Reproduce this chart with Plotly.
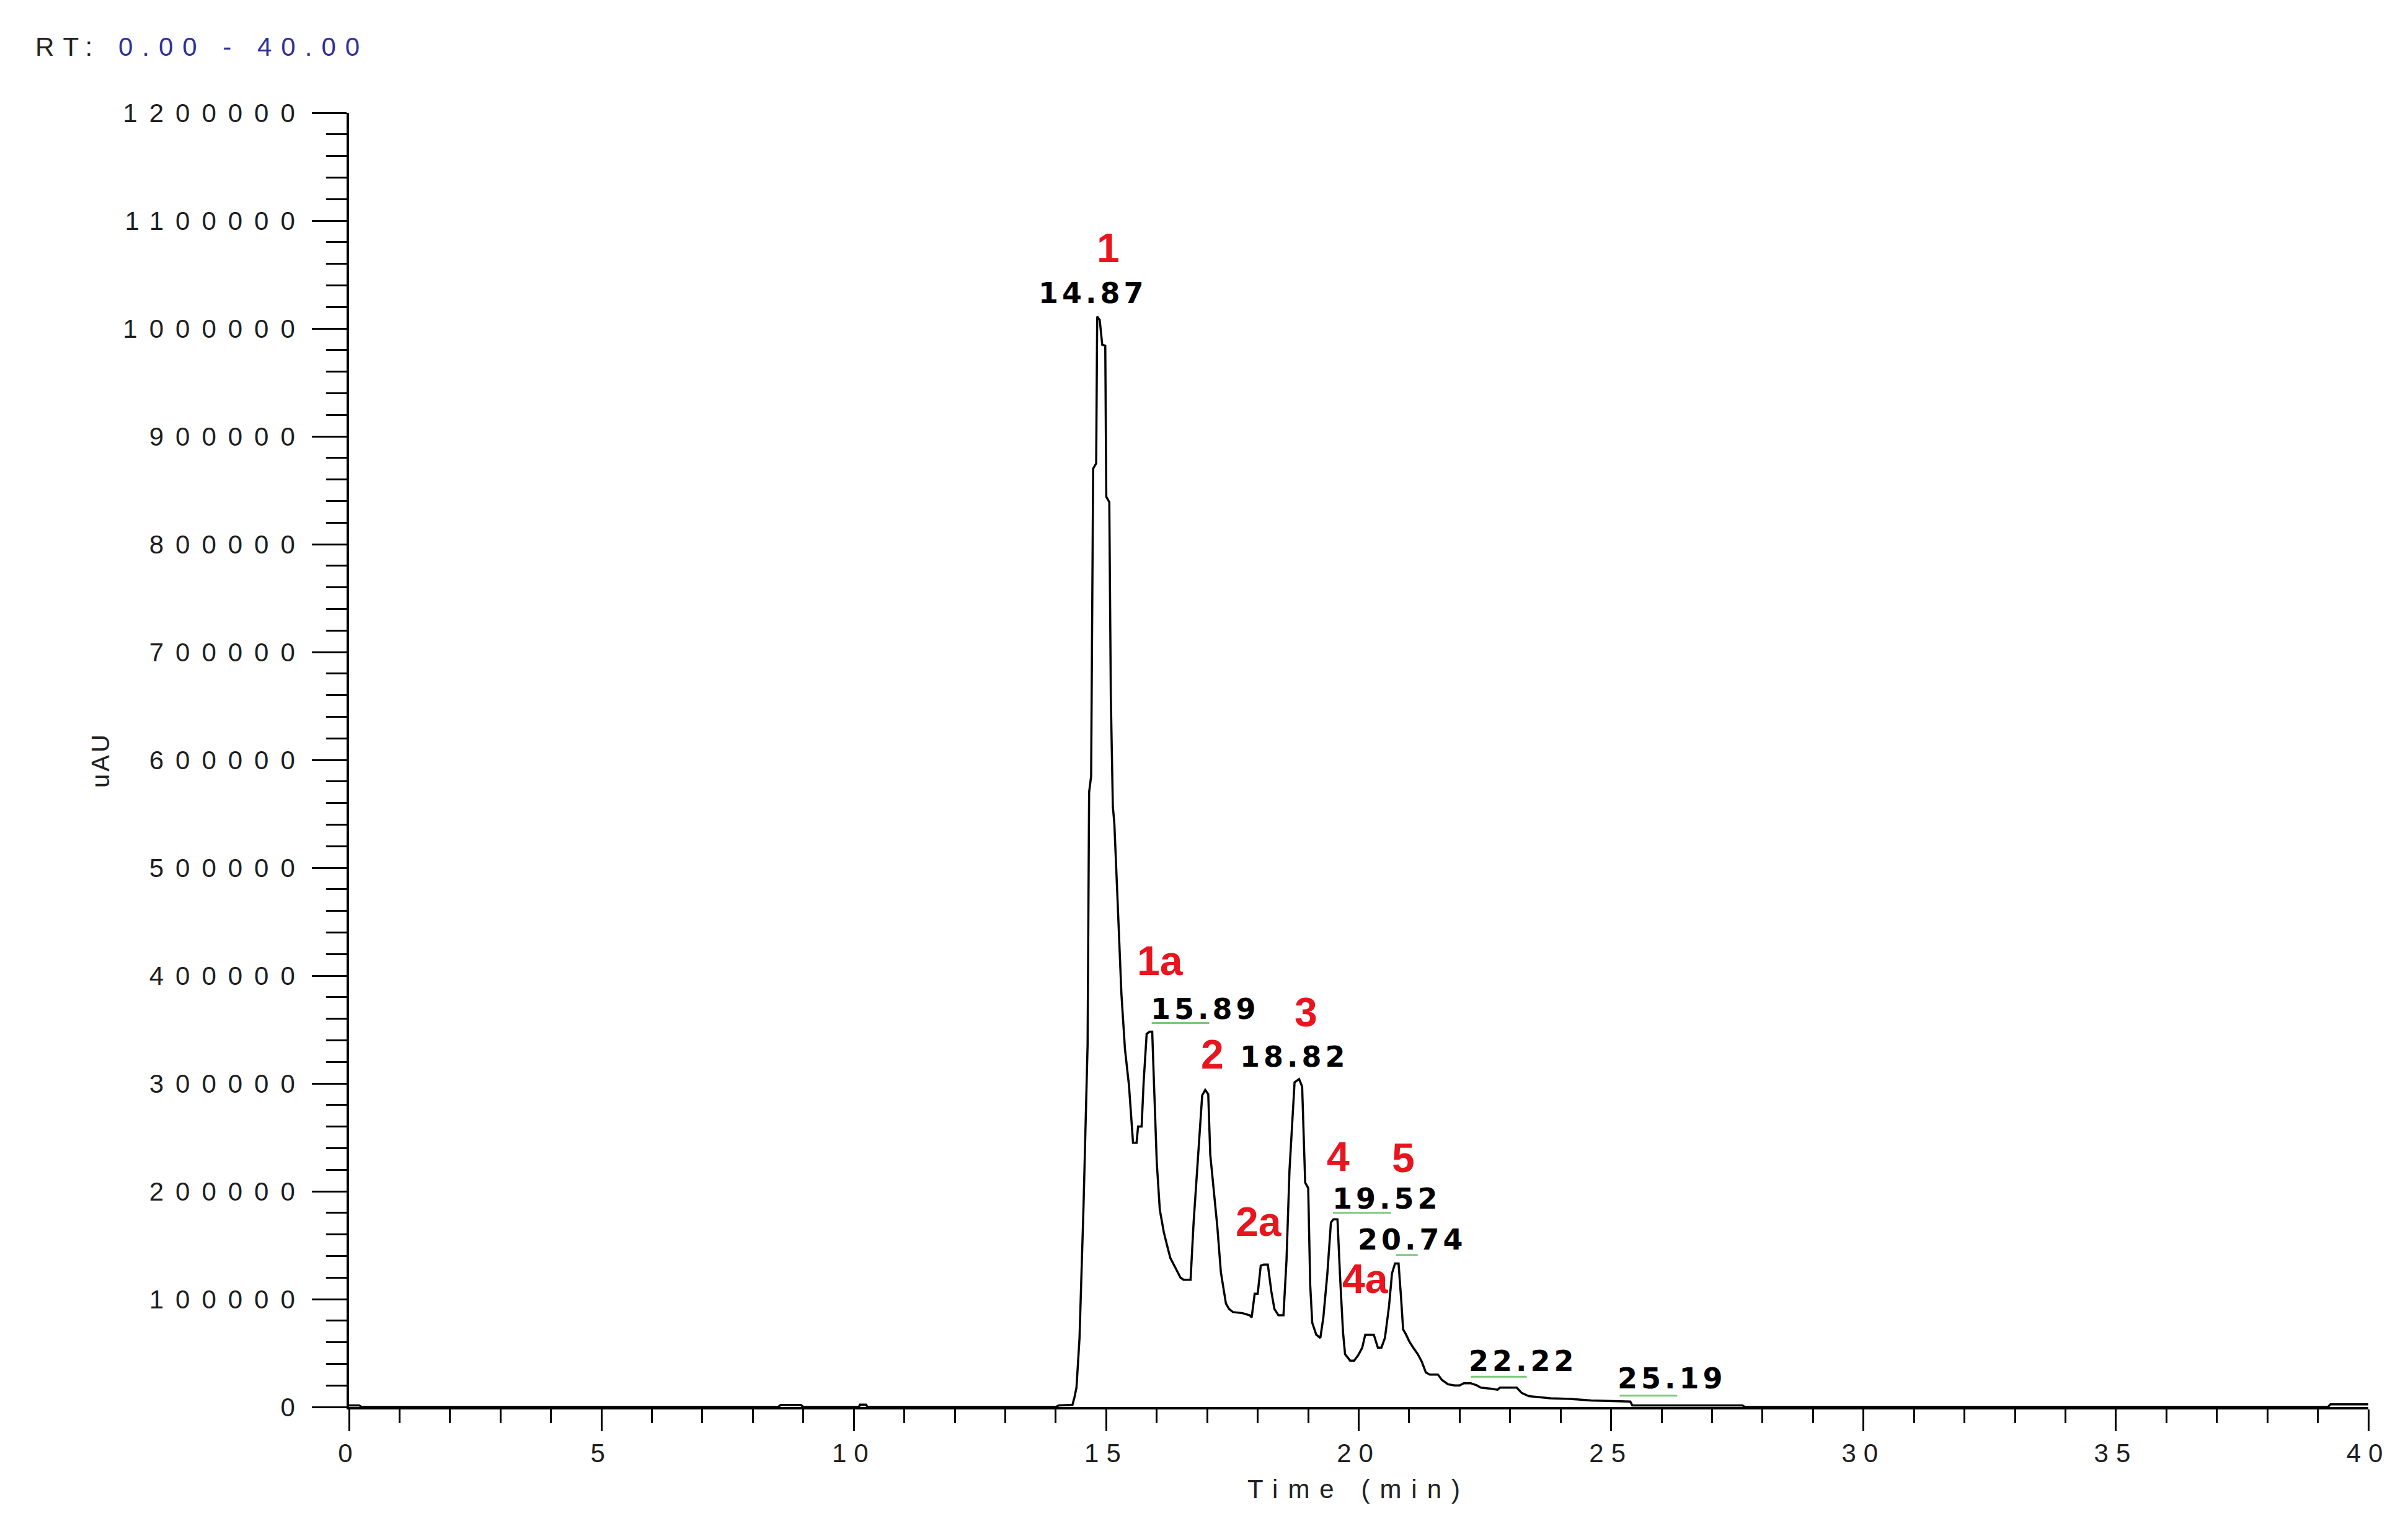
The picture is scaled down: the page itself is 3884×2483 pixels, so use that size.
import plotly.graph_objects as go

# ---- chromatogram trace (retention time in min, signal in uAU) ----
rt = [0.0, 0.2, 0.25, 8.5, 8.55, 8.95, 9.0, 10.1, 10.12, 10.24, 10.27, 14.0, 14.06, 14.33, 14.37,
      14.41, 14.47, 14.55, 14.63, 14.66, 14.70, 14.74, 14.80, 14.82, 14.87, 14.92, 14.98, 15.00,
      15.06, 15.09, 15.13, 15.16, 15.22, 15.30, 15.37, 15.45, 15.53, 15.60, 15.63, 15.70, 15.74,
      15.80, 15.86, 15.91, 15.94, 16.00, 16.06, 16.14, 16.22, 16.27, 16.37, 16.47, 16.53, 16.67,
      16.73, 16.82, 16.90, 16.96, 17.02, 17.06, 17.14, 17.20, 17.27, 17.37, 17.43, 17.51, 17.70,
      17.84, 17.88, 17.94, 18.00, 18.06, 18.12, 18.20, 18.27, 18.33, 18.41, 18.51, 18.57, 18.63,
      18.73, 18.82, 18.88, 18.94, 19.00, 19.04, 19.08, 19.16, 19.24, 19.30, 19.38, 19.45, 19.50,
      19.58, 19.63, 19.69, 19.73, 19.83, 19.91, 19.99, 20.07, 20.13, 20.30, 20.38, 20.45, 20.52,
      20.60, 20.66, 20.72, 20.79, 20.84, 20.88, 20.94, 21.00, 21.08, 21.17, 21.25, 21.33, 21.41,
      21.57, 21.65, 21.77, 21.90, 22.00, 22.08, 22.22, 22.34, 22.42, 22.62, 22.75, 22.80, 23.13,
      23.23, 23.37, 23.80, 24.20, 24.60, 25.38, 25.42, 27.60, 27.65, 39.20, 39.25, 40.0]
signal = [1500, 1500, 0, 0, 1800, 1800, 0, 0, 2200, 2200, 0, 0, 1500, 2000, 9000,
          18000, 64000, 187000, 336000, 570000, 585000, 870000, 875000, 1011000, 1008000, 985000, 984000, 844000,
          839000, 659000, 557000, 541000, 474000, 383000, 332000, 298000, 245000, 245000, 260000, 260000, 301000,
          346000, 348000, 348000, 307000, 227000, 183000, 162000, 147000, 138000, 129000, 120000, 118000, 118000,
          171000, 230000, 289000, 294000, 290000, 234000, 198000, 167000, 125000, 96000, 91000, 88000, 87000,
          85000, 83000, 105000, 105000, 131000, 132000, 132000, 107000, 91000, 85000, 85000, 136000, 220000,
          301000, 304000, 297000, 208000, 203000, 113000, 78000, 67000, 64000, 83000, 124000, 171000, 174000,
          174000, 122000, 69000, 49000, 43000, 43000, 48000, 55000, 67000, 67000, 55000, 55000, 64000,
          93000, 124000, 133000, 133000, 101000, 72000, 67000, 61000, 55000, 49000, 42000, 32000, 30000,
          30000, 25000, 21000, 20000, 20000, 22000, 22000, 20000, 18000, 17000, 16000, 18000, 18000,
          13000, 10000, 8000, 7500, 6000, 5000, 1500, 1500, 0, 0, 2500, 2500]

# ---- peak labels ----
peak_names = ["1", "1a", "2", "2a", "3", "4", "4a", "5"]
peak_name_x = [15.04, 16.07, 17.10, 18.02, 18.96, 19.60, 20.14, 20.88]
peak_name_y = [1075000, 414000, 327000, 172000, 366000, 232000, 119000, 231000]

rt_labels = ["14.87", "15.89", "18.82", "19.52", "20.74", "22.22", "25.19"]
rt_label_x = [14.74, 16.96, 18.73, 20.56, 21.06, 23.26, 26.21]
rt_label_y = [1033000, 369000, 325000, 193000, 155000, 42500, 26400]

# green peak-mark segments
mark_x0 = [15.90, 19.49, 20.74, 22.22, 25.17]
mark_x1 = [17.04, 20.64, 21.17, 23.33, 26.31]
mark_y = [356000, 180000, 141000, 28000, 10500]

# ---- axes ----
x_tickvals = [0, 5, 10, 15, 20, 25, 30, 35, 40]
x_ticktext = ["0", "5", "10", "15", "20", "25", "30", "35", "40"]
y_tickvals = [0, 100000, 200000, 300000, 400000, 500000, 600000, 700000, 800000, 900000,
              1000000, 1100000, 1200000]
y_ticktext = ["0", "100000", "200000", "300000", "400000", "500000", "600000", "700000",
              "800000", "900000", "1000000", "1100000", "1200000"]


def spaced(s, px):
    return "<span style='letter-spacing:%dpx'>%s</span>" % (px, s)


W, H = 3884, 2483
FONT = "Liberation Sans, Arial"
fig = go.Figure()

fig.add_trace(go.Scatter(x=rt, y=signal, mode="lines",
                         line=dict(color="black", width=3.5), showlegend=False,
                         hoverinfo="skip"))

for x0, x1, y in zip(mark_x0, mark_x1, mark_y):
    fig.add_trace(go.Scatter(x=[x0, x1], y=[y, y], mode="lines",
                             line=dict(color="#7cc87c", width=3), showlegend=False,
                             hoverinfo="skip"))

for t, x, y in zip(peak_names, peak_name_x, peak_name_y):
    fig.add_annotation(x=x, y=y, text=t, showarrow=False, xanchor="center", yanchor="middle",
                       font=dict(family=FONT, size=66, color="#e8141e", weight="bold"))

for t, x, y in zip(rt_labels, rt_label_x, rt_label_y):
    fig.add_annotation(x=x, y=y, text=spaced(t, 6), showarrow=False, xanchor="center",
                       yanchor="middle",
                       font=dict(family="DejaVu Sans", size=46, color="black", weight="bold"))

fig.add_annotation(xref="paper", yref="paper", x=-0.156, y=1.051, xanchor="left",
                   yanchor="middle", showarrow=False,
                   text="<span style='letter-spacing:15px'>RT: "
                        "<span style='color:#2f2f9c'>0.00 - 40.00</span></span>",
                   font=dict(family=FONT, size=42, color="#222222"))

axis_font = dict(family=FONT, size=42, color="#1e1e1e")

fig.update_xaxes(range=[0, 40], tickmode="array", tickvals=x_tickvals,
                 ticktext=[spaced(t, 12) for t in x_ticktext],
                 ticks="outside", ticklen=35, tickwidth=3, tickcolor="black",
                 showline=True, linewidth=3.5, linecolor="black", showgrid=False, zeroline=False,
                 tickfont=axis_font,
                 minor=dict(dtick=1, tick0=0, ticks="outside", ticklen=22, tickwidth=3,
                            tickcolor="black", showgrid=False),
                 title=dict(text=spaced("Time (min)", 16), font=dict(family=FONT, size=42,
                                                                      color="#222222"),
                            standoff=21),
                 automargin=False)

fig.update_yaxes(range=[0, 1200000], tickmode="array", tickvals=y_tickvals,
                 ticktext=[spaced(t, 19) for t in y_ticktext],
                 ticks="outside", ticklen=56, tickwidth=3, tickcolor="black",
                 showline=True, linewidth=3.5, linecolor="black", showgrid=False, zeroline=False,
                 tickfont=axis_font,
                 minor=dict(dtick=20000, tick0=0, ticks="outside", ticklen=33, tickwidth=3,
                            tickcolor="black", showgrid=False),
                 title=dict(text=spaced("uAU", 4), font=dict(family=FONT, size=40,
                                                             color="#222222"),
                            standoff=10),
                 automargin=False)

fig.update_layout(width=W, height=H, margin=dict(l=555, r=72, t=174, b=221, pad=0),
                  plot_bgcolor="white", paper_bgcolor="white", showlegend=False)

fig.write_html("out.html")
